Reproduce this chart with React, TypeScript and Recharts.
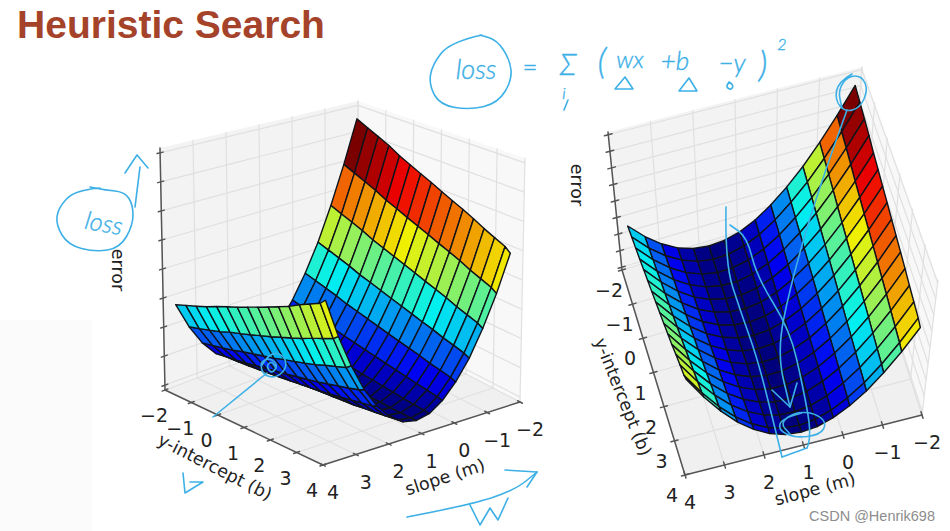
import { Scatter, ScatterChart, XAxis, YAxis } from "recharts";

// error, one row per slope step (m = -2 .. 4), one column per intercept step (b = -2 .. 4)
const errorRows = [
  [93.5, 91.2, 88.9, 86.6, 83.8, 81.6, 79.4, 77.3, 75.1, 73.0, 71.0, 68.9, 66.5, 64.5, 62.6, 60.7],
  [74.3, 72.2, 70.2, 68.1, 65.7, 63.8, 61.8, 59.9, 58.1, 56.2, 54.5, 52.7, 50.6, 48.9, 47.2, 45.6],
  [57.4, 55.5, 53.8, 52.0, 49.9, 48.2, 46.6, 45.0, 43.4, 41.8, 40.3, 38.8, 37.0, 35.6, 34.2, 32.9],
  [42.7, 41.2, 39.7, 38.2, 36.4, 35.1, 33.7, 32.3, 31.0, 29.7, 28.4, 27.2, 25.8, 24.7, 23.5, 22.4],
  [30.7, 29.5, 28.2, 27.0, 25.5, 24.4, 23.3, 22.2, 21.1, 20.1, 19.1, 18.2, 17.0, 16.2, 15.3, 14.5],
  [20.8, 19.8, 18.7, 17.8, 16.7, 15.8, 15.0, 14.1, 13.4, 12.6, 11.9, 11.2, 10.4, 9.8, 9.2, 8.7],
  [13.1, 12.3, 11.6, 10.9, 10.2, 9.5, 9.0, 8.5, 7.9, 7.5, 7.0, 6.6, 6.1, 5.8, 5.4, 5.1],
  [7.7, 7.3, 6.8, 6.4, 6.0, 5.6, 5.3, 5.1, 4.8, 4.6, 4.4, 4.3, 4.1, 4.1, 4.0, 4.0],
  [4.8, 4.5, 4.4, 4.2, 4.1, 4.1, 4.0, 4.0, 4.0, 4.1, 4.2, 4.3, 4.5, 4.7, 4.9, 5.1],
  [4.1, 4.1, 4.2, 4.4, 4.6, 4.8, 5.0, 5.3, 5.6, 5.9, 6.3, 6.6, 7.2, 7.7, 8.2, 8.7],
  [5.7, 6.0, 6.4, 6.8, 7.3, 7.8, 8.3, 8.9, 9.4, 10.0, 10.7, 11.4, 12.2, 12.9, 13.7, 14.5],
  [9.5, 10.2, 10.8, 11.5, 12.3, 13.1, 13.8, 14.6, 15.5, 16.3, 17.2, 18.2, 19.3, 20.3, 21.4, 22.4],
  [15.8, 16.7, 17.6, 18.6, 19.8, 20.8, 21.8, 22.8, 24.0, 25.1, 26.2, 27.4, 28.9, 30.2, 31.5, 32.9],
  [24.4, 25.5, 26.7, 27.9, 29.5, 30.7, 32.0, 33.4, 34.7, 36.2, 37.6, 39.1, 40.9, 42.4, 44.0, 45.6],
  [35.3, 36.8, 38.2, 39.7, 41.5, 43.1, 44.6, 46.3, 47.9, 49.6, 51.3, 53.0, 55.2, 57.0, 58.8, 60.7],
];
const slopeTicks = [-2, -1, 0, 1, 2, 3, 4];
const interceptTicks = [-2, -1, 0, 1, 2, 3, 4];
const errorTicks = [2, 14, 26, 38, 50, 62, 74, 86, 98];

type Pt = [number, number];
type Shape = { pts: Pt[]; fill?: string; stroke?: string; width?: number; close?: boolean; smooth?: boolean };
type Label = { at: Pt; text: string; size: number; color: string; rotate?: number; font?: string; weight?: number; italic?: boolean };

// box corners on the page: [slope end, intercept end] for the floor and the top of each plot
const leftBox = {
  floor: { a: [358, 318], b: [165, 390], c: [520, 402], d: [323, 465] },
  top: { a: [358, 101], b: [160, 148], c: [525, 158], d: [325, 200] },
  bOffset: [-11, 25] as Pt,
  mOffset: [10, 27] as Pt,
};
const rightBox = {
  floor: { a: [853, 200], b: [622, 270], c: [922, 415], d: [685, 475] },
  top: { a: [862, 67], b: [608, 132], c: [938, 280], d: [676, 332] },
  bOffset: [-13, 20] as Pt,
  mOffset: [5, 27] as Pt,
};
type Box = typeof leftBox;

const SURFACE_INSET = 0.035;
const INK = "#3db0e6";
const HAND = "Lato";

function project(box: Box, t: number, s: number, z: number): Pt {
  const mix = (k: 0 | 1, c: Record<string, number[]>) =>
    (1 - t) * (1 - s) * c.a[k] + t * (1 - s) * c.b[k] + (1 - t) * s * c.c[k] + t * s * c.d[k];
  return [
    mix(0, box.floor) * (1 - z) + mix(0, box.top) * z,
    mix(1, box.floor) * (1 - z) + mix(1, box.top) * z,
  ];
}

// jet, toned down a little like the shaded faces of the plot
function jet(v: number) {
  const c = (x: number) => Math.round(240 * Math.max(0, Math.min(1, 1.5 - Math.abs(4 * v - x))));
  return `rgb(${c(3)},${c(2)},${c(1)})`;
}

function surfaceShapes(box: Box): Shape[] {
  const out: Shape[] = [];
  const rows = errorRows.length - 1;
  const cols = errorRows[0].length - 1;
  // the last intercept column is cut short on the plot
  const colPos = (j: number) => Math.min(1, j / (cols - 0.5));
  const at = (i: number, j: number) =>
    project(
      box,
      SURFACE_INSET + ((1 - 2 * SURFACE_INSET) * i) / rows,
      SURFACE_INSET + (1 - 2 * SURFACE_INSET) * colPos(j),
      errorRows[i][j] / 100,
    );
  for (let i = 0; i < rows; i++) {
    for (let j = 0; j < cols; j++) {
      const avg = (errorRows[i][j] + errorRows[i + 1][j] + errorRows[i][j + 1] + errorRows[i + 1][j + 1]) / 4;
      out.push({
        pts: [at(i, j), at(i + 1, j), at(i + 1, j + 1), at(i, j + 1)],
        fill: jet((avg - 4) / 79),
        stroke: "#10131a",
        width: 1.4,
        close: true,
      });
    }
  }
  return out;
}

function frameShapes(box: Box): Shape[] {
  const tOf = (m: number) => (m + 2) / 6;
  const sOf = (b: number) => (b + 2) / 6;
  const grid = "#e0e0e0";
  const axis = "#555555";
  const out: Shape[] = [
    { pts: [project(box, 1, 0, 0), project(box, 0, 0, 0), project(box, 0, 0, 1), project(box, 1, 0, 1)], fill: "#f3f3f3", close: true },
    { pts: [project(box, 0, 0, 0), project(box, 0, 1, 0), project(box, 0, 1, 1), project(box, 0, 0, 1)], fill: "#f8f8f8", close: true },
    { pts: [project(box, 0, 0, 0), project(box, 1, 0, 0), project(box, 1, 1, 0), project(box, 0, 1, 0)], fill: "#f0f0f0", close: true },
  ];
  slopeTicks.forEach((m) => {
    const t = tOf(m);
    out.push({ pts: [project(box, t, 0, 1), project(box, t, 0, 0), project(box, t, 1, 0)], stroke: grid, width: 1.2 });
  });
  interceptTicks.forEach((b) => {
    const s = sOf(b);
    out.push({ pts: [project(box, 0, s, 1), project(box, 0, s, 0), project(box, 1, s, 0)], stroke: grid, width: 1.2 });
  });
  errorTicks.forEach((e) => {
    const z = e / 100;
    out.push({ pts: [project(box, 1, 0, z), project(box, 0, 0, z), project(box, 0, 1, z)], stroke: grid, width: 1.2 });
  });
  out.push({ pts: [project(box, 1, 0, 0), project(box, 1, 0, 1)], stroke: axis, width: 1.5 });
  out.push({ pts: [project(box, 1, 0, 0), project(box, 1, 1, 0)], stroke: axis, width: 1.5 });
  out.push({ pts: [project(box, 1, 1, 0), project(box, 0, 1, 0)], stroke: axis, width: 1.5 });
  slopeTicks.forEach((m) => {
    const t = tOf(m);
    out.push({ pts: [project(box, t, 0.985, 0), project(box, t, 1.015, 0)], stroke: axis, width: 1.5 });
  });
  interceptTicks.forEach((b) => {
    const s = sOf(b);
    out.push({ pts: [project(box, 0.985, s, 0), project(box, 1.015, s, 0)], stroke: axis, width: 1.5 });
  });
  errorTicks.forEach((e) => {
    const z = e / 100;
    out.push({ pts: [project(box, 0.985, 0, z), project(box, 1.015, 0, z)], stroke: axis, width: 1.5 });
  });
  return out;
}

function tickLabels(box: Box): Label[] {
  const out: Label[] = [];
  const name = (v: number) => (v < 0 ? `\u2212${-v}` : `${v}`);
  interceptTicks.forEach((b) => {
    const p = project(box, 1, (b + 2) / 6, 0);
    out.push({ at: [p[0] + box.bOffset[0], p[1] + box.bOffset[1]], text: name(b), size: 19, color: "#222" });
  });
  slopeTicks.forEach((m) => {
    const p = project(box, (m + 2) / 6, 1, 0);
    out.push({ at: [p[0] + box.mOffset[0], p[1] + box.mOffset[1]], text: name(m), size: 19, color: "#222" });
  });
  return out;
}

const axisLabels: Label[] = [
  { at: [215, 467], text: "y-intercept (b)", size: 17.5, color: "#222", rotate: 27 },
  { at: [445, 477], text: "slope (m)", size: 17.5, color: "#222", rotate: -18 },
  { at: [118, 270], text: "error", size: 17.5, color: "#222", rotate: 90 },
  { at: [623, 397], text: "y-intercept (b)", size: 17.5, color: "#222", rotate: 68 },
  { at: [815, 489], text: "slope (m)", size: 17.5, color: "#222", rotate: -15 },
  { at: [577, 185], text: "error", size: 17.5, color: "#222", rotate: 90 },
];

const pageLabels: Label[] = [
  { at: [171, 24], text: "Heuristic Search", size: 39, color: "#a5432a", font: "Liberation Sans", weight: 700 },
  { at: [872, 516], text: "CSDN @Henrik698", size: 14.5, color: "#8c8c8c", font: "Liberation Sans" },
  { at: [104, 222], text: "loss", size: 25, color: INK, font: HAND, weight: 300, rotate: 10, italic: true },
  { at: [476, 68], text: "loss", size: 27, color: INK, font: HAND, weight: 300, italic: true },
  { at: [530, 66], text: "=", size: 26, color: INK, font: HAND, weight: 300 },
  { at: [568, 63], text: "\u03a3", size: 30, color: INK, font: HAND, weight: 300, italic: true },
  { at: [564, 92], text: "i", size: 16, color: INK, font: HAND, weight: 300, italic: true },
  { at: [602, 60], text: "(", size: 36, color: INK, font: HAND, weight: 300, italic: true },
  { at: [630, 58], text: "wx", size: 24, color: INK, font: HAND, weight: 300, italic: true },
  { at: [675, 60], text: "+b", size: 26, color: INK, font: HAND, weight: 300, italic: true },
  { at: [732, 62], text: "\u2212y", size: 26, color: INK, font: HAND, weight: 300, italic: true },
  { at: [763, 63], text: ")", size: 36, color: INK, font: HAND, weight: 300, italic: true },
  { at: [782, 43], text: "2", size: 16, color: INK, font: HAND, weight: 300, italic: true },
];

// hand drawn pen strokes over the plots
const penCurves: Pt[][] = [
  [[100, 188], [75, 190], [58, 208], [56, 225], [68, 245], [95, 252], [120, 248], [133, 225], [133, 205], [125, 192], [105, 190], [90, 187]],
  [[482, 35], [450, 42], [432, 65], [429, 85], [440, 105], [470, 110], [498, 103], [512, 80], [510, 60], [497, 40], [480, 35]],
  [[262, 365], [270, 352], [284, 355], [287, 368], [276, 378], [263, 375], [260, 362], [270, 358], [278, 365], [272, 374], [266, 366], [272, 361], [276, 368]],
  [[407, 517], [470, 505], [515, 490], [537, 472]],
  [[852, 74], [838, 82], [835, 100], [845, 112], [860, 108], [868, 90], [862, 76], [848, 76], [838, 90], [842, 108]],
  [[847, 110], [817, 193], [790, 287], [777, 353], [790, 407]],
  [[726, 207], [725, 263], [740, 310], [757, 357], [773, 420], [782, 457]],
  [[807, 448], [812, 437], [803, 387], [790, 330], [757, 277], [747, 237], [730, 225]],
  [[802, 413], [782, 418], [778, 430], [795, 438], [820, 435], [827, 423], [815, 413], [795, 412], [780, 423], [790, 434]],
  [[729, 82], [734, 85], [731, 90], [726, 87], [729, 82]],
];
const penCorners: Pt[][] = [
  [[135, 207], [140, 167]],
  [[125, 173], [137, 155], [148, 168]],
  [[213, 417], [267, 373]],
  [[183, 473], [185, 493], [203, 482], [190, 482]],
  [[527, 487], [537, 472], [505, 470]],
  [[470, 505], [480, 525], [490, 508], [498, 520], [508, 498]],
  [[772, 390], [790, 407], [797, 383]],
  [[782, 457], [807, 448]],
  [[615, 89], [633, 89], [625, 77], [615, 89]],
  [[679, 91], [697, 91], [689, 78], [679, 91]],
  [[564, 110], [568, 100]],
];

function pathOf(pts: { x: number; y: number }[], shape: Shape) {
  if (shape.smooth && pts.length > 2) {
    let d = `M${pts[0].x},${pts[0].y}`;
    for (let i = 1; i < pts.length - 1; i++) {
      const mx = (pts[i].x + pts[i + 1].x) / 2;
      const my = (pts[i].y + pts[i + 1].y) / 2;
      d += `Q${pts[i].x},${pts[i].y} ${mx},${my}`;
    }
    const last = pts[pts.length - 1];
    return `${d}L${last.x},${last.y}`;
  }
  return `M${pts.map((p) => `${p.x},${p.y}`).join("L")}${shape.close ? "Z" : ""}`;
}

const noMark = () => <g />;

function shapeSeries(name: string, shapes: Shape[]) {
  const data = shapes.flatMap((s) => s.pts.map(([x, y]) => ({ x, y })));
  const draw = (props: { points: { x: number; y: number }[] }) => {
    let start = 0;
    return (
      <g>
        {shapes.map((s, i) => {
          const pts = props.points.slice(start, start + s.pts.length);
          start += s.pts.length;
          return (
            <path
              key={i}
              d={pathOf(pts, s)}
              fill={s.fill ?? "none"}
              stroke={s.stroke ?? "none"}
              strokeWidth={s.width ?? 1}
              strokeLinejoin="round"
              strokeLinecap="round"
            />
          );
        })}
      </g>
    );
  };
  return <Scatter key={name} name={name} data={data} line={draw as never} shape={noMark} isAnimationActive={false} />;
}

function labelSeries(name: string, labels: Label[]) {
  const data = labels.map((l) => ({ x: l.at[0], y: l.at[1], label: l }));
  const draw = (props: { cx: number; cy: number; payload: { label: Label } }) => {
    const l = props.payload.label;
    return (
      <text
        x={props.cx}
        y={props.cy}
        fontSize={l.size}
        fill={l.color}
        stroke={l.font === HAND ? INK : "none"}
        strokeWidth={l.font === HAND ? 0.4 : 0}
        fontFamily={l.font ?? "DejaVu Sans"}
        fontWeight={l.weight ?? 400}
        fontStyle={l.italic ? "italic" : "normal"}
        textAnchor="middle"
        dominantBaseline="central"
        transform={l.rotate ? `rotate(${l.rotate} ${props.cx} ${props.cy})` : undefined}
      >
        {l.text}
      </text>
    );
  };
  return <Scatter key={name} name={name} data={data} shape={draw as never} isAnimationActive={false} />;
}

export default function App() {
  const pen: Shape[] = [
    ...penCurves.map((pts) => ({ pts, stroke: INK, width: 1.6, smooth: true })),
    ...penCorners.map((pts) => ({ pts, stroke: INK, width: 1.6 })),
  ];
  const backdrop: Shape[] = [
    { pts: [[0, 320], [92, 320], [92, 531], [0, 531]], fill: "#fbfbfb", close: true },
  ];
  return (
    <div style={{ position: "absolute", left: 0, top: 0, width: 950, height: 531, background: "#ffffff" }}>
      <ScatterChart width={950} height={531} margin={{ top: 0, right: 0, bottom: 0, left: 0 }}>
        <XAxis type="number" dataKey="x" domain={[0, 950]} hide />
        <YAxis type="number" dataKey="y" domain={[0, 531]} reversed hide />
        {shapeSeries("backdrop", backdrop)}
        {shapeSeries("left frame", frameShapes(leftBox))}
        {shapeSeries("right frame", frameShapes(rightBox))}
        {shapeSeries("left surface", surfaceShapes(leftBox))}
        {shapeSeries("right surface", surfaceShapes(rightBox))}
        {labelSeries("left ticks", tickLabels(leftBox))}
        {labelSeries("right ticks", tickLabels(rightBox))}
        {labelSeries("axis labels", axisLabels)}
        {shapeSeries("pen", pen)}
        {labelSeries("page text", pageLabels)}
      </ScatterChart>
    </div>
  );
}
